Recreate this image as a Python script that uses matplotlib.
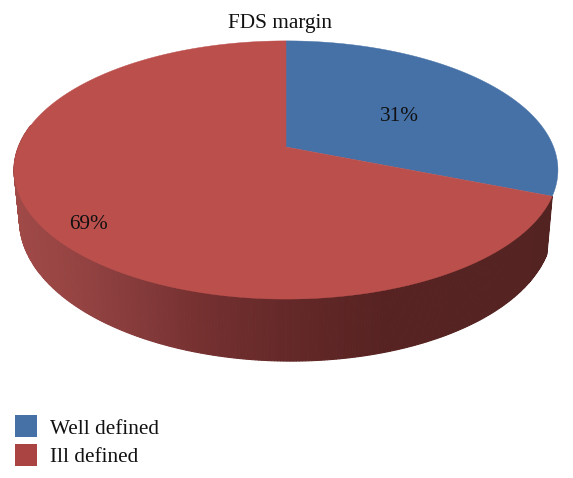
import numpy as np
import matplotlib
matplotlib.use("Agg")
import matplotlib.pyplot as plt
from matplotlib.patches import Polygon, Patch
from matplotlib.colors import LinearSegmentedColormap

categories = ["Well defined", "Ill defined"]
values = [31, 69]
title = "FDS margin"
label_pos = [(399, 116), (89, 224)]

top_colors = ["#4671A7", "#BB4F4C"]
legend_colors = ["#4671A7", "#A94442"]

plt.rcParams["font.family"] = ["Liberation Serif", "DejaVu Serif"]
FS = 15.3

W, H = 573, 478
fig = plt.figure(figsize=(W / 100, H / 100), dpi=100)
ax = fig.add_axes([0, 0, 1, 1])
ax.set_xlim(0, W)
ax.set_ylim(H, 0)
ax.axis("off")

# perspective projection of the pie disc
CX, CY, A, B, C = 286.0, 147.0, 125.0, 267.6, 0.178


def uv(theta):
    return np.sin(theta), -np.cos(theta)


def top(theta):
    u, v = uv(theta)
    d = 1 - C * v
    return CX + B * u / d, CY + A * v / d


def bottom(theta):
    u, v = uv(theta)
    x, y = top(theta)
    return CX + (x - CX) * 0.98, y + 51.1 + 10.9 * v + 3.07 * u


fractions = np.cumsum([0] + values) / sum(values) * 2 * np.pi

# side wall of the second slice, with horizontal shading
wall = LinearSegmentedColormap.from_list(
    "wall",
    [(0.0, "#A04A48"), (0.1, "#964443"), (0.22, "#863B3B"), (0.34, "#753030"),
     (0.51, "#642828"), (0.68, "#572322"), (1.0, "#532322")],
)
vis_end = 1.5 * np.pi + np.arcsin(C)
t = np.linspace(fractions[1], vis_end, 300)
for a, b in zip(t[:-1], t[1:]):
    xa, ya = top(a)
    xb, yb = top(b)
    xc, yc = bottom(b)
    xd, yd = bottom(a)
    col = wall(float(np.clip((0.5 * (xa + xb) - 14) / 544, 0, 1)))
    ax.add_patch(Polygon([(xa, ya), (xb, yb), (xc, yc), (xd, yd)], closed=True,
                         facecolor=col, edgecolor=col, linewidth=0.8))

# top face
for i in range(len(values)):
    th = np.linspace(fractions[i], fractions[i + 1], 400)
    xs, ys = top(th)
    pts = [(CX, CY)] + list(zip(xs, ys))
    ax.add_patch(Polygon(pts, closed=True, facecolor=top_colors[i],
                         edgecolor=top_colors[i], linewidth=0.3, zorder=3))

for v, (x, y) in zip(values, label_pos):
    ax.text(x, y, f"{v}%", ha="center", va="center", fontsize=FS, color="#111111", zorder=4)

ax.text(280, 23, title, ha="center", va="center", fontsize=FS, color="#111111")

handles = [Patch(facecolor=c, edgecolor="none", label=n) for c, n in zip(legend_colors, categories)]
leg = ax.legend(handles=handles, loc="lower left", bbox_to_anchor=(15 / W, 1 - 467 / H),
                bbox_transform=ax.transAxes, frameon=False, fontsize=FS, borderpad=0,
                borderaxespad=0, handlelength=1.04, handleheight=1.215, labelspacing=0.25,
                handletextpad=0.62)
for txt in leg.get_texts():
    txt.set_color("#111111")

fig.savefig("out.png", dpi=100)
